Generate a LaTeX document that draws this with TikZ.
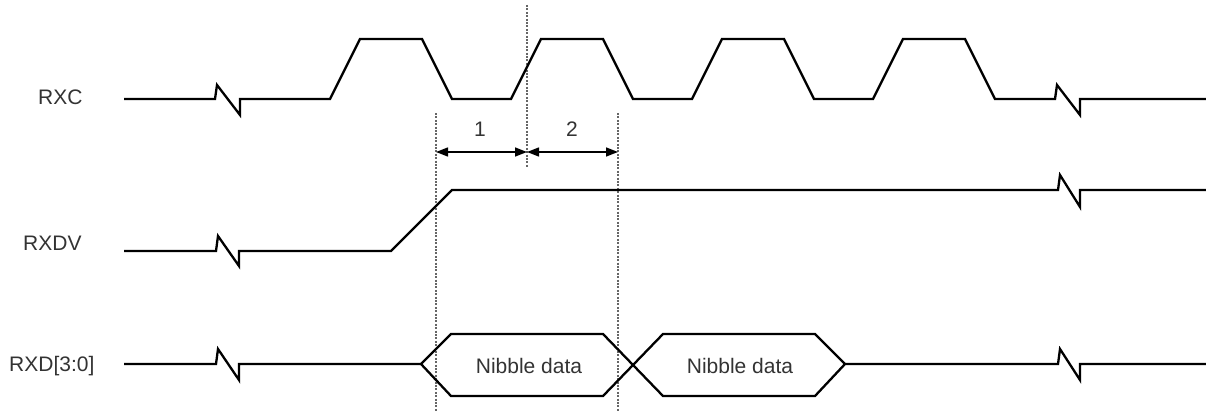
\documentclass[tikz,border=0pt]{standalone}
\usepackage{fontspec}
\setmainfont{Liberation Sans}
\usetikzlibrary{arrows.meta}
\begin{document}
\begin{tikzpicture}[x=1pt,y=-1pt,
  sig/.style={draw=black,line width=2.3pt,line join=miter},
  guide/.style={draw=black!60,line width=1.5pt,dash pattern=on 2pt off 1.4pt},
  dim/.style={draw=black,line width=1.4pt,{Triangle[length=12pt,width=9pt]}-{Triangle[length=12pt,width=9pt]}},
  lab/.style={font=\fontsize{21}{25}\selectfont,text=black!80,inner sep=0pt}]
\useasboundingbox (0,0) rectangle (1206,412);
% guide coordinates
\coordinate (gLtop) at (436,113);
\coordinate (gLbot) at (436,412);
\coordinate (gCtop) at (527,5);
\coordinate (gCbot) at (527,168);
\coordinate (gRtop) at (618,113);
\coordinate (gRbot) at (618,412);
\coordinate (aL) at (436,152);
\coordinate (aC) at (527,152);
\coordinate (aR) at (618,152);
% guides
\draw[guide] (gLtop) -- (gLbot);
\draw[guide] (gCtop) -- (gCbot);
\draw[guide] (gRtop) -- (gRbot);
% labels
\node[lab,anchor=west] (lrxc) at (38,97) {RXC};
\node[lab,anchor=west] (lrxdv) at (23,243) {RXDV};
\node[lab,anchor=west] (lrxd) at (9,366) {RXD[3:0]};
% RXC
\draw[sig] (124,99) -- (215,99) -- ++(2,-14) -- ++(23,30) -- ++(0,-16)
  -- (330,99) -- (360,39) -- (422,39) -- (452,99)
  -- (511,99) -- (541,39) -- (603,39) -- (633,99)
  -- (692,99) -- (722,39) -- (784,39) -- (814,99)
  -- (873,99) -- (903,39) -- (965,39) -- (995,99)
  -- (1055,99) -- ++(2,-14) -- ++(23,30) -- ++(0,-16) -- (1206,99);
% RXDV
\draw[sig] (124,251) -- (216,251) -- ++(2,-15) -- ++(21,30) -- ++(0,-15)
  -- (391,251) -- (452,190) -- (1058,190) -- ++(2,-15) -- ++(20,32) -- ++(0,-17) -- (1206,190);
% RXD
\draw[sig] (124,364) -- (216,364) -- ++(2,-15) -- ++(21,31) -- ++(0,-16) -- (421,364);
\draw[sig] (421,364) -- (451,334) -- (603,334) -- (663,396) -- (815,396) -- (845,364)
  -- (815,334) -- (663,334) -- (603,396) -- (451,396) -- cycle;
\draw[sig] (845,364) -- (1058,364) -- ++(2,-15) -- ++(20,31) -- ++(0,-16) -- (1206,364);
\node[lab] (nd1) at (529,366) {Nibble data};
\node[lab] (nd2) at (740,366) {Nibble data};
% dimension arrows
\draw[dim] (aL) -- (aC);
\draw[dim] (aC) -- (aR);
\node[lab] (n1) at (480,129) {1};
\node[lab] (n2) at (572,129) {2};
\end{tikzpicture}
\end{document}
